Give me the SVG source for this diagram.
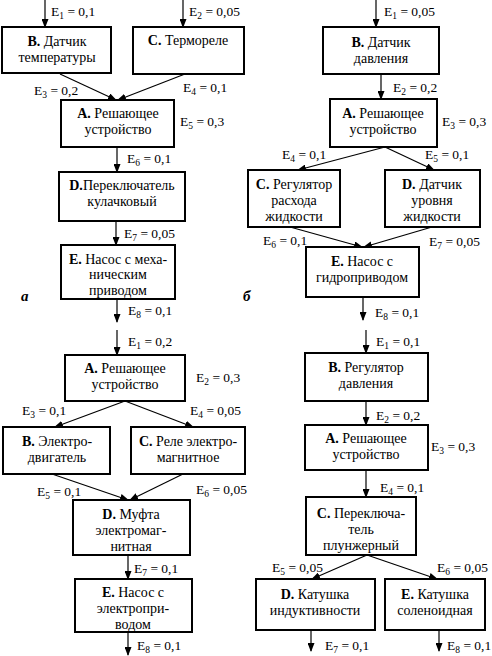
<svg xmlns="http://www.w3.org/2000/svg" width="492" height="656" viewBox="0 0 492 656">
<style>
.box{fill:#fff;stroke:#000;stroke-width:2}
.t{font-family:'Liberation Serif','Times New Roman',serif;font-size:14px;text-anchor:middle;fill:#000}
.e{font-family:'Liberation Serif','Times New Roman',serif;font-size:13.5px;fill:#000}
.b{font-weight:bold}
.s{font-size:9.5px}
.c line{stroke:#000;stroke-width:1.2;marker-end:url(#ah)}
.lab{font-family:'Liberation Serif','Times New Roman',serif;font-size:15px;font-weight:bold;font-style:italic}
</style>
<defs>
<marker id="ah" markerUnits="userSpaceOnUse" markerWidth="9" markerHeight="7" refX="8" refY="3.5" orient="auto">
<path d="M0,0 L9,3.5 L0,7 z" fill="#000"/>
</marker>
</defs>
<rect width="492" height="656" fill="#fff"/>

<!-- Diagram a -->
<g id="a-connectors" class="c">
<line x1="45" y1="0" x2="45" y2="27"/>
<line x1="183" y1="0" x2="183" y2="27"/>
<line x1="60" y1="74" x2="116" y2="100"/>
<line x1="185" y1="74" x2="118" y2="100"/>
<line x1="117" y1="147" x2="117" y2="172"/>
<line x1="116" y1="221" x2="116" y2="245"/>
<line x1="117" y1="299" x2="117" y2="322"/>
</g>
<g id="a-B"><rect class="box" x="2" y="27" width="109" height="46"/>
<text class="t" x="57" y="46"><tspan class="b">B.</tspan> Датчик</text>
<text class="t" x="57" y="62">температуры</text></g>
<g id="a-C"><rect class="box" x="133" y="27" width="111" height="47"/>
<text class="t" x="188" y="45"><tspan class="b">C.</tspan> Термореле</text></g>
<g id="a-A"><rect class="box" x="61" y="100" width="113" height="47"/>
<text class="t" x="118" y="118"><tspan class="b">A.</tspan> Решающее</text>
<text class="t" x="118" y="134">устройство</text></g>
<g id="a-D"><rect class="box" x="59" y="172" width="126" height="49"/>
<text class="t" x="122" y="190"><tspan class="b">D.</tspan>Переключатель</text>
<text class="t" x="122" y="206">кулачковый</text></g>
<g id="a-E"><rect class="box" x="61" y="245" width="114" height="54"/>
<text class="t" x="118" y="264"><tspan class="b">E.</tspan> Насос с меха-</text>
<text class="t" x="118" y="279">ническим</text>
<text class="t" x="118" y="295">приводом</text></g>
<g id="a-labels">
<text class="e" x="51" y="16">E<tspan class="s" dy="3">1</tspan><tspan dy="-3"> = 0,1</tspan></text>
<text class="e" x="189" y="16">E<tspan class="s" dy="3">2</tspan><tspan dy="-3"> = 0,05</tspan></text>
<text class="e" x="34" y="95">E<tspan class="s" dy="3">3</tspan><tspan dy="-3"> = 0,2</tspan></text>
<text class="e" x="183" y="92">E<tspan class="s" dy="3">4</tspan><tspan dy="-3"> = 0,1</tspan></text>
<text class="e" x="180" y="126">E<tspan class="s" dy="3">5</tspan><tspan dy="-3"> = 0,3</tspan></text>
<text class="e" x="127" y="163">E<tspan class="s" dy="3">6</tspan><tspan dy="-3"> = 0,1</tspan></text>
<text class="e" x="124" y="238">E<tspan class="s" dy="3">7</tspan><tspan dy="-3"> = 0,05</tspan></text>
<text class="e" x="128" y="315">E<tspan class="s" dy="3">8</tspan><tspan dy="-3"> = 0,1</tspan></text>
<text class="lab" x="21" y="301">a</text>
</g>

<!-- Diagram б -->
<g id="b-connectors" class="c">
<line x1="376" y1="0" x2="376" y2="27"/>
<line x1="381" y1="74" x2="381" y2="99"/>
<line x1="385" y1="147" x2="298" y2="170"/>
<line x1="385" y1="147" x2="434" y2="170"/>
<line x1="290" y1="227" x2="362" y2="247"/>
<line x1="432" y1="227" x2="364" y2="247"/>
<line x1="363" y1="297" x2="363" y2="320"/>
</g>
<g id="b-B"><rect class="box" x="323" y="27" width="116" height="47"/>
<text class="t" x="381" y="47"><tspan class="b">B.</tspan> Датчик</text>
<text class="t" x="381" y="63">давления</text></g>
<g id="b-A"><rect class="box" x="330" y="99" width="107" height="48"/>
<text class="t" x="383" y="118"><tspan class="b">A.</tspan> Решающее</text>
<text class="t" x="383" y="134">устройство</text></g>
<g id="b-C"><rect class="box" x="248" y="170" width="92" height="57"/>
<text class="t" x="294" y="189"><tspan class="b">C.</tspan> Регулятор</text>
<text class="t" x="294" y="205">расхода</text>
<text class="t" x="294" y="221">жидкости</text></g>
<g id="b-D"><rect class="box" x="385" y="170" width="95" height="57"/>
<text class="t" x="432" y="189"><tspan class="b">D.</tspan> Датчик</text>
<text class="t" x="432" y="205">уровня</text>
<text class="t" x="432" y="221">жидкости</text></g>
<g id="b-E"><rect class="box" x="306" y="247" width="113" height="50"/>
<text class="t" x="362" y="266"><tspan class="b">E.</tspan> Насос с</text>
<text class="t" x="362" y="282">гидроприводом</text></g>
<g id="b-labels">
<text class="e" x="384" y="16">E<tspan class="s" dy="3">1</tspan><tspan dy="-3"> = 0,05</tspan></text>
<text class="e" x="393" y="92">E<tspan class="s" dy="3">2</tspan><tspan dy="-3"> = 0,2</tspan></text>
<text class="e" x="442" y="126">E<tspan class="s" dy="3">3</tspan><tspan dy="-3"> = 0,3</tspan></text>
<text class="e" x="282" y="159">E<tspan class="s" dy="3">4</tspan><tspan dy="-3"> = 0,1</tspan></text>
<text class="e" x="425" y="159">E<tspan class="s" dy="3">5</tspan><tspan dy="-3"> = 0,1</tspan></text>
<text class="e" x="263" y="245">E<tspan class="s" dy="3">6</tspan><tspan dy="-3"> = 0,1</tspan></text>
<text class="e" x="429" y="246">E<tspan class="s" dy="3">7</tspan><tspan dy="-3"> = 0,05</tspan></text>
<text class="e" x="375" y="317">E<tspan class="s" dy="3">8</tspan><tspan dy="-3"> = 0,1</tspan></text>
<text class="lab" x="243" y="301">б</text>
</g>

<!-- Diagram в (bottom-left) -->
<g id="c-connectors" class="c">
<line x1="117" y1="330" x2="117" y2="355"/>
<line x1="125" y1="401" x2="55" y2="427"/>
<line x1="125" y1="401" x2="193" y2="427"/>
<line x1="52" y1="474" x2="128" y2="500"/>
<line x1="183" y1="474" x2="130" y2="500"/>
<line x1="128" y1="555" x2="128" y2="579"/>
<line x1="128" y1="632" x2="128" y2="655"/>
</g>
<g id="c-A"><rect class="box" x="65" y="355" width="120" height="46"/>
<text class="t" x="125" y="373"><tspan class="b">A.</tspan> Решающее</text>
<text class="t" x="125" y="389">устройство</text></g>
<g id="c-B"><rect class="box" x="3" y="427" width="107" height="47"/>
<text class="t" x="57" y="446"><tspan class="b">B.</tspan> Электро-</text>
<text class="t" x="57" y="462">двигатель</text></g>
<g id="c-C"><rect class="box" x="131" y="427" width="114" height="47"/>
<text class="t" x="188" y="446"><tspan class="b">C.</tspan> Реле электро-</text>
<text class="t" x="188" y="462">магнитное</text></g>
<g id="c-D"><rect class="box" x="73" y="500" width="117" height="55"/>
<text class="t" x="131" y="519"><tspan class="b">D.</tspan> Муфта</text>
<text class="t" x="131" y="535">электромаг-</text>
<text class="t" x="131" y="551">нитная</text></g>
<g id="c-E"><rect class="box" x="75" y="579" width="117" height="53"/>
<text class="t" x="133" y="597"><tspan class="b">E.</tspan> Насос с</text>
<text class="t" x="133" y="613">электропри-</text>
<text class="t" x="133" y="629">водом</text></g>
<g id="c-labels">
<text class="e" x="128" y="346">E<tspan class="s" dy="3">1</tspan><tspan dy="-3"> = 0,2</tspan></text>
<text class="e" x="196" y="382">E<tspan class="s" dy="3">2</tspan><tspan dy="-3"> = 0,3</tspan></text>
<text class="e" x="22" y="415">E<tspan class="s" dy="3">3</tspan><tspan dy="-3"> = 0,1</tspan></text>
<text class="e" x="190" y="415">E<tspan class="s" dy="3">4</tspan><tspan dy="-3"> = 0,05</tspan></text>
<text class="e" x="37" y="496">E<tspan class="s" dy="3">5</tspan><tspan dy="-3"> = 0,1</tspan></text>
<text class="e" x="196" y="494">E<tspan class="s" dy="3">6</tspan><tspan dy="-3"> = 0,05</tspan></text>
<text class="e" x="134" y="573">E<tspan class="s" dy="3">7</tspan><tspan dy="-3"> = 0,1</tspan></text>
<text class="e" x="137" y="650">E<tspan class="s" dy="3">8</tspan><tspan dy="-3"> = 0,1</tspan></text>
</g>

<!-- Diagram г (bottom-right) -->
<g id="d-connectors" class="c">
<line x1="366" y1="330" x2="366" y2="353"/>
<line x1="366" y1="401" x2="366" y2="425"/>
<line x1="366" y1="470" x2="366" y2="497"/>
<line x1="367" y1="555" x2="312" y2="579"/>
<line x1="367" y1="555" x2="437" y2="579"/>
<line x1="311" y1="630" x2="311" y2="651"/>
<line x1="439" y1="630" x2="439" y2="651"/>
</g>
<g id="d-B"><rect class="box" x="305" y="353" width="123" height="48"/>
<text class="t" x="366" y="372"><tspan class="b">B.</tspan> Регулятор</text>
<text class="t" x="366" y="388">давления</text></g>
<g id="d-A"><rect class="box" x="305" y="425" width="123" height="45"/>
<text class="t" x="366" y="443"><tspan class="b">A.</tspan> Решающее</text>
<text class="t" x="366" y="459">устройство</text></g>
<g id="d-C"><rect class="box" x="306" y="497" width="110" height="58"/>
<text class="t" x="361" y="518"><tspan class="b">C.</tspan> Переключа-</text>
<text class="t" x="361" y="534">тель</text>
<text class="t" x="361" y="550">плунжерный</text></g>
<g id="d-D"><rect class="box" x="256" y="579" width="119" height="51"/>
<text class="t" x="315" y="599"><tspan class="b">D.</tspan> Катушка</text>
<text class="t" x="315" y="615">индуктивности</text></g>
<g id="d-E"><rect class="box" x="385" y="579" width="100" height="51"/>
<text class="t" x="435" y="599"><tspan class="b">E.</tspan> Катушка</text>
<text class="t" x="435" y="615">соленоидная</text></g>
<g id="d-labels">
<text class="e" x="376" y="346">E<tspan class="s" dy="3">1</tspan><tspan dy="-3"> = 0,1</tspan></text>
<text class="e" x="376" y="420">E<tspan class="s" dy="3">2</tspan><tspan dy="-3"> = 0,2</tspan></text>
<text class="e" x="431" y="451">E<tspan class="s" dy="3">3</tspan><tspan dy="-3"> = 0,3</tspan></text>
<text class="e" x="380" y="492">E<tspan class="s" dy="3">4</tspan><tspan dy="-3"> = 0,1</tspan></text>
<text class="e" x="272" y="572">E<tspan class="s" dy="3">5</tspan><tspan dy="-3"> = 0,05</tspan></text>
<text class="e" x="437" y="572">E<tspan class="s" dy="3">6</tspan><tspan dy="-3"> = 0,05</tspan></text>
<text class="e" x="325" y="650">E<tspan class="s" dy="3">7</tspan><tspan dy="-3"> = 0,1</tspan></text>
<text class="e" x="447" y="650">E<tspan class="s" dy="3">8</tspan><tspan dy="-3"> = 0,1</tspan></text>
</g>
</svg>
